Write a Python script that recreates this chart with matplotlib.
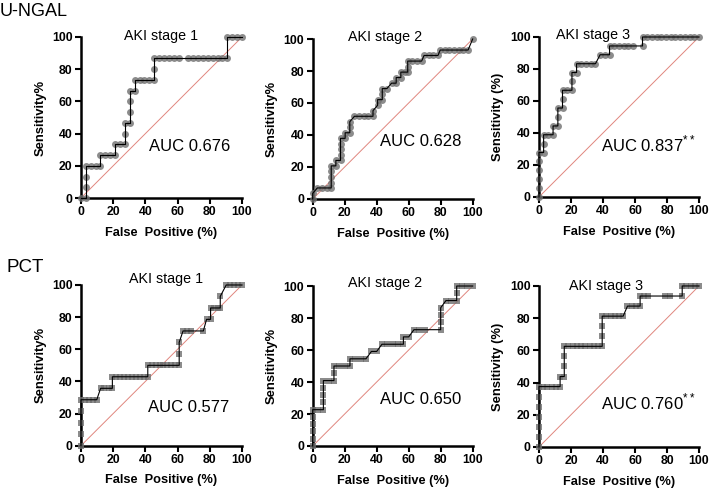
import matplotlib.pyplot as plt

plt.rcParams['font.family'] = ['Liberation Sans', 'DejaVu Sans']

# U-NGAL, AKI stage 1
ngal1_fp = [0, 3.03, 3.03, 3.03, 3.03, 6.06, 9.09, 12.12, 12.12, 15.15, 18.18, 21.21, 21.21, 24.24, 27.27,
            27.27, 27.27, 30.3, 30.3, 30.3, 30.3, 33.33, 33.33, 36.36, 39.39, 42.42, 45.45, 45.45, 45.45,
            48.48, 51.5, 54.5, 57.6, 60.6, 66.7, 69.7, 72.7, 75.8, 78.8, 81.8, 84.8, 87.9, 90.9, 90.9,
            93.9, 97.0, 100]
ngal1_se = [0, 0, 6.67, 13.33, 20, 20, 20, 20, 26.67, 26.67, 26.67, 26.67, 33.33, 33.33, 33.33,
            40, 46.67, 46.67, 53.33, 60, 66.67, 66.67, 73.33, 73.33, 73.33, 73.33, 73.33, 80, 86.67,
            86.67, 86.67, 86.67, 86.67, 86.67, 86.67, 86.67, 86.67, 86.67, 86.67, 86.67, 86.67, 86.67, 86.67, 100,
            100, 100, 100]

# U-NGAL, AKI stage 2
ngal2_fp = [0, 0, 2.9, 5.8, 8.7, 11.6, 11.6, 11.6, 11.6, 11.6, 14.5, 14.5, 17.4, 17.4, 17.4, 17.4, 17.4,
            20.3, 20.3, 23.2, 23.2, 23.2, 26.1, 29.0, 31.9, 34.8, 37.7, 37.7, 40.6, 40.6, 43.5, 43.5,
            43.5, 46.4, 49.3, 52.2, 52.2, 55.1, 55.1, 58.0, 59.4, 59.4, 59.4, 62.3, 65.2, 68.1, 69.6,
            72.5, 75.4, 78.3, 79.7, 82.6, 85.5, 88.4, 91.3, 94.2, 97.1, 100]
ngal2_se = [0, 3.45, 6.9, 6.9, 6.9, 6.9, 10.3, 13.8, 17.2, 20.7, 20.7, 24.1, 24.1, 27.6, 31.0, 34.5, 37.9,
            37.9, 41.4, 41.4, 44.8, 48.3, 51.7, 51.7, 51.7, 51.7, 51.7, 55.2, 58.6, 62.1, 62.1, 65.5,
            69.0, 69.0, 72.4, 72.4, 75.9, 75.9, 79.3, 79.3, 79.3, 82.8, 86.2, 86.2, 86.2, 86.2, 89.7,
            89.7, 89.7, 89.7, 93.1, 93.1, 93.1, 93.1, 93.1, 93.1, 93.1, 100]

# U-NGAL, AKI stage 3
ngal3_fp = [0, 0, 0, 0, 0, 0, 2.9, 2.9, 2.9, 5.9, 8.8, 8.8, 11.8, 11.8, 11.8, 14.7, 14.7, 14.7, 17.6,
            20.6, 20.6, 20.6, 23.5, 23.5, 26.5, 29.4, 32.4, 35.3, 38.2, 41.2, 44.1, 44.1, 47.1, 50.0,
            52.9, 55.9, 58.8, 64.7, 64.7, 67.6, 70.6, 73.5, 76.5, 79.4, 82.4, 85.3, 88.2, 91.2, 94.1,
            97.1, 100]
ngal3_se = [0, 5.56, 11.1, 16.7, 22.2, 27.8, 27.8, 33.3, 38.9, 38.9, 38.9, 44.4, 44.4, 50.0, 55.6, 55.6,
            61.1, 66.7, 66.7, 66.7, 72.2, 77.8, 77.8, 83.3, 83.3, 83.3, 83.3, 83.3, 88.9, 88.9, 88.9,
            94.4, 94.4, 94.4, 94.4, 94.4, 94.4, 94.4, 100, 100, 100, 100, 100, 100, 100, 100, 100,
            100, 100, 100, 100]

# PCT, AKI stage 1
pct1_fp = [0, 0, 0, 0, 0, 2.4, 4.9, 7.3, 9.8, 12.2, 14.6, 17.1, 19.5, 19.5, 22.0, 24.4, 26.8, 29.3,
           31.7, 34.1, 36.6, 39.0, 41.5, 41.5, 43.9, 46.3, 48.8, 51.2, 53.7, 56.1, 58.5, 61.0, 61.0,
           61.0, 63.4, 65.9, 68.3, 76.0, 78.0, 80.5, 80.5, 82.9, 85.4, 86.5, 86.5, 90.2, 92.7, 95.1,
           97.6, 100]
pct1_se = [0, 7.14, 14.3, 21.4, 28.6, 28.6, 28.6, 28.6, 28.6, 35.7, 35.7, 35.7, 35.7, 42.9, 42.9, 42.9,
           42.9, 42.9, 42.9, 42.9, 42.9, 42.9, 42.9, 50, 50, 50, 50, 50, 50, 50, 50, 50, 57.1, 64.3,
           71.4, 71.4, 71.4, 71.4, 78.6, 78.6, 85.7, 85.7, 85.7, 85.7, 92.9, 100, 100, 100, 100, 100]

# PCT, AKI stage 2
pct2_fp = [0, 0, 0, 0, 0, 0, 3.3, 6.7, 6.7, 6.7, 6.7, 6.7, 10.0, 13.3, 13.3, 13.3, 16.7, 20.0, 23.3,
           23.3, 26.7, 30.0, 33.3, 36.7, 40.0, 43.3, 46.7, 50.0, 53.3, 56.7, 56.7, 60.0, 63.3, 66.7,
           70.0, 80.0, 80.0, 80.0, 80.0, 83.3, 86.7, 90.0, 90.0, 90.0, 93.3, 96.7, 100]
pct2_se = [0, 4.55, 9.1, 13.6, 18.2, 22.7, 22.7, 22.7, 27.3, 31.8, 36.4, 40.9, 40.9, 40.9, 45.5, 50,
           50, 50, 50, 54.5, 54.5, 54.5, 54.5, 59.1, 59.1, 63.6, 63.6, 63.6, 63.6, 63.6, 68.2, 68.2,
           72.7, 72.7, 72.7, 72.7, 77.3, 81.8, 86.4, 90.9, 90.9, 90.9, 95.5, 100, 100, 100, 100]

# PCT, AKI stage 3
pct3_fp = [0, 0, 0, 0, 0, 0, 0, 2.6, 5.3, 7.9, 10.5, 13.2, 13.2, 15.8, 15.8, 15.8, 15.8, 18.4, 21.1,
           23.7, 26.3, 28.9, 31.6, 34.2, 36.8, 39.5, 39.5, 39.5, 39.5, 42.1, 44.7, 47.4, 50.0, 52.6,
           55.3, 57.9, 60.5, 63.2, 63.2, 65.8, 68.4, 78.9, 81.6, 89.5, 89.5, 92.1, 94.7, 97.4, 100]
pct3_se = [0, 6.25, 12.5, 18.75, 25, 31.25, 37.5, 37.5, 37.5, 37.5, 37.5, 37.5, 43.75, 43.75, 50,
           56.25, 62.5, 62.5, 62.5, 62.5, 62.5, 62.5, 62.5, 62.5, 62.5, 62.5, 68.75, 75, 81.25, 81.25,
           81.25, 81.25, 81.25, 81.25, 87.5, 87.5, 87.5, 87.5, 93.75, 93.75, 93.75, 93.75, 93.75,
           93.75, 100, 100, 100, 100, 100]

titles = ['AKI stage 1', 'AKI stage 2', 'AKI stage 3'] * 2
auc_texts = ['AUC 0.676', 'AUC 0.628', 'AUC 0.837$^{**}$', 'AUC 0.577', 'AUC 0.650', 'AUC 0.760$^{**}$']
ylabels = ['Sensitivity%', 'Sensitivity%', 'Sensitivity (%)'] * 2

panels = [
    (ngal1_fp, ngal1_se, 'o'), (ngal2_fp, ngal2_se, 'o'), (ngal3_fp, ngal3_se, 'o'),
    (pct1_fp, pct1_se, 's'), (pct2_fp, pct2_se, 's'), (pct3_fp, pct3_se, 's'),
]

# axes boxes in figure fraction [left, bottom, width, height]
boxes = [
    [0.1142, 0.5959, 0.2271, 0.3286], [0.4410, 0.5939, 0.2257, 0.3265], [0.7602, 0.5980, 0.2257, 0.3265],
    [0.1142, 0.0904, 0.2271, 0.3280], [0.4410, 0.0898, 0.2257, 0.3265], [0.7602, 0.0878, 0.2257, 0.3286],
]
title_pos = [(50, 100.5), (45, 101), (34, 101), (52.6, 104), (45.3, 102), (42, 100)]
auc_pos = [(42, 32.3), (42, 35.8), (38.5, 33), (41.8, 23.6), (42, 28.8), (38.5, 28)]

plt.rcParams['mathtext.fontset'] = 'custom'
plt.rcParams['mathtext.rm'] = 'Liberation Sans'

fig = plt.figure(figsize=(7.09, 4.90), dpi=100)

for i, (fp, se, mk) in enumerate(panels):
    ax = fig.add_axes(boxes[i])
    ax.plot([0, 100], [0, 100], color='#e0867e', lw=0.7, zorder=1)
    ax.plot(fp, se, linestyle='none', marker=mk, markersize=5 if mk == 'o' else 4.6, color='#6f6f6f',
            alpha=0.8, markeredgewidth=0, zorder=2, clip_on=False)
    ax.plot(fp, se, color='black', lw=0.8, zorder=3, clip_on=False)
    ax.set_xlim(0, 100)
    ax.set_ylim(0, 100)
    ax.set_xticks([0, 20, 40, 60, 80, 100])
    ax.set_yticks([0, 20, 40, 60, 80, 100])
    for s in ['top', 'right']:
        ax.spines[s].set_visible(False)
    for s in ['left', 'bottom']:
        ax.spines[s].set_linewidth(1.8)
        ax.spines[s].set_zorder(1.5)
    ax.tick_params(width=1.5, length=4, labelsize=8.8, pad=2)
    for lbl in ax.get_xticklabels() + ax.get_yticklabels():
        lbl.set_fontweight('bold')
    ax.set_xlabel('False  Positive (%)', fontsize=9.2, fontweight='bold', labelpad=6)
    ax.set_ylabel(ylabels[i], fontsize=9.4, fontweight='bold', labelpad=4)
    ax.text(title_pos[i][0], title_pos[i][1], titles[i], ha='center', va='center', fontsize=10.3)
    ax.text(auc_pos[i][0], auc_pos[i][1], auc_texts[i], ha='left', va='center', fontsize=12)

fig.text(0.0, 1 - 11 / 490, 'U-NGAL', ha='left', va='center', fontsize=13)
fig.text(7 / 709, 1 - 268 / 490, 'PCT', ha='left', va='center', fontsize=13.5)

fig.savefig('out.png', dpi=100)
